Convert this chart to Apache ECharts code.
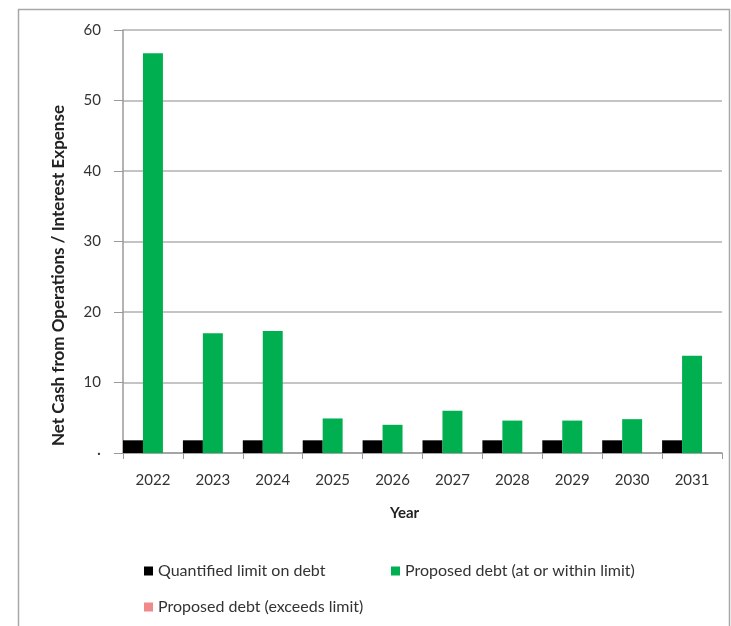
<!DOCTYPE html>
<html>
<head>
<meta charset="utf-8">
<script src="https://cdn.jsdelivr.net/npm/echarts@6/dist/echarts.min.js"></script>
<style>
html,body{margin:0;padding:0;background:#fff;}
#chart{width:731px;height:626px;}
</style>
</head>
<body>
<div id="chart"></div>
<script>
const years = ['2022','2023','2024','2025','2026','2027','2028','2029','2030','2031'];
const limitValues = [1.8, 1.8, 1.8, 1.8, 1.8, 1.8, 1.8, 1.8, 1.8, 1.8];
const withinValues = [56.7, 17.0, 17.3, 4.9, 4.0, 6.0, 4.6, 4.6, 4.8, 13.8];
const exceedsValues = [null, null, null, null, null, null, null, null, null, null];
const seriesNames = ['Quantified limit on debt', 'Proposed debt (at or within limit)', 'Proposed debt (exceeds limit)'];
const yTicks = [0, 10, 20, 30, 40, 50, 60];

const FONT = 'Lato, "Open Sans", sans-serif';
const chart = echarts.init(document.getElementById('chart'));
const legendText = {fontFamily: FONT, fontSize: 16, color: '#333'};
chart.setOption({
  animation: false,
  backgroundColor: '#fff',
  graphic: [{
    type: 'rect', left: 16, top: 7, shape: {width: 711, height: 640},
    style: {fill: 'none', stroke: '#a8a8a8', lineWidth: 1.5}, silent: true
  }],
  grid: {left: 123, right: 9, top: 30, bottom: 173},
  legend: [
    {data: [seriesNames[0]], left: 139, top: 558, itemWidth: 9, itemHeight: 9, icon: 'rect', itemGap: 4, textStyle: legendText},
    {data: [seriesNames[1], ], left: 386, top: 558, itemWidth: 9, itemHeight: 9, icon: 'rect', itemGap: 4, textStyle: legendText},
    {data: [seriesNames[2]], left: 139, top: 594, itemWidth: 9, itemHeight: 9, icon: 'rect', itemGap: 4, textStyle: legendText}
  ],
  xAxis: {
    type: 'category',
    data: years,
    name: 'Year',
    nameLocation: 'middle',
    nameGap: 53,
    nameTextStyle: {fontFamily: FONT, fontSize: 15, fontWeight: 'bold', color: '#222', padding: [0, 36, 0, 0]},
    axisLine: {lineStyle: {color: '#9a9a9a', width: 1.5}},
    axisTick: {show: true, length: 6, lineStyle: {color: '#9a9a9a'}},
    axisLabel: {fontFamily: FONT, fontSize: 15, color: '#333', margin: 20}
  },
  yAxis: {
    type: 'value',
    min: 0, max: 60, interval: 10,
    name: 'Net Cash from Operations / Interest Expense',
    nameLocation: 'middle',
    nameGap: 56,
    nameTextStyle: {fontFamily: FONT, fontSize: 17, fontWeight: 'bold', color: '#222', padding: [0, 68, 0, 0]},
    axisLine: {show: true, lineStyle: {color: '#9a9a9a', width: 1.5}},
    axisTick: {show: true, length: 9, inside: false, lineStyle: {color: '#9a9a9a'}},
    axisLabel: {
      fontFamily: FONT, fontSize: 15, color: '#333', margin: 22,
      formatter: function (v) { return yTicks.indexOf(v) > 0 ? String(v) : '·'; }
    },
    splitLine: {lineStyle: {color: '#c4c4c4', width: 2}}
  },
  series: [
    {name: seriesNames[0], type: 'bar', data: limitValues, itemStyle: {color: '#000000'}, barGap: '0%', barCategoryGap: '0%'},
    {name: seriesNames[1], type: 'bar', data: withinValues, itemStyle: {color: '#00b050'}, barGap: '0%', barCategoryGap: '0%'},
    {name: seriesNames[2], type: 'bar', data: exceedsValues, itemStyle: {color: '#f08a8a'}, barGap: '0%', barCategoryGap: '0%'}
  ]
});
</script>
</body>
</html>
